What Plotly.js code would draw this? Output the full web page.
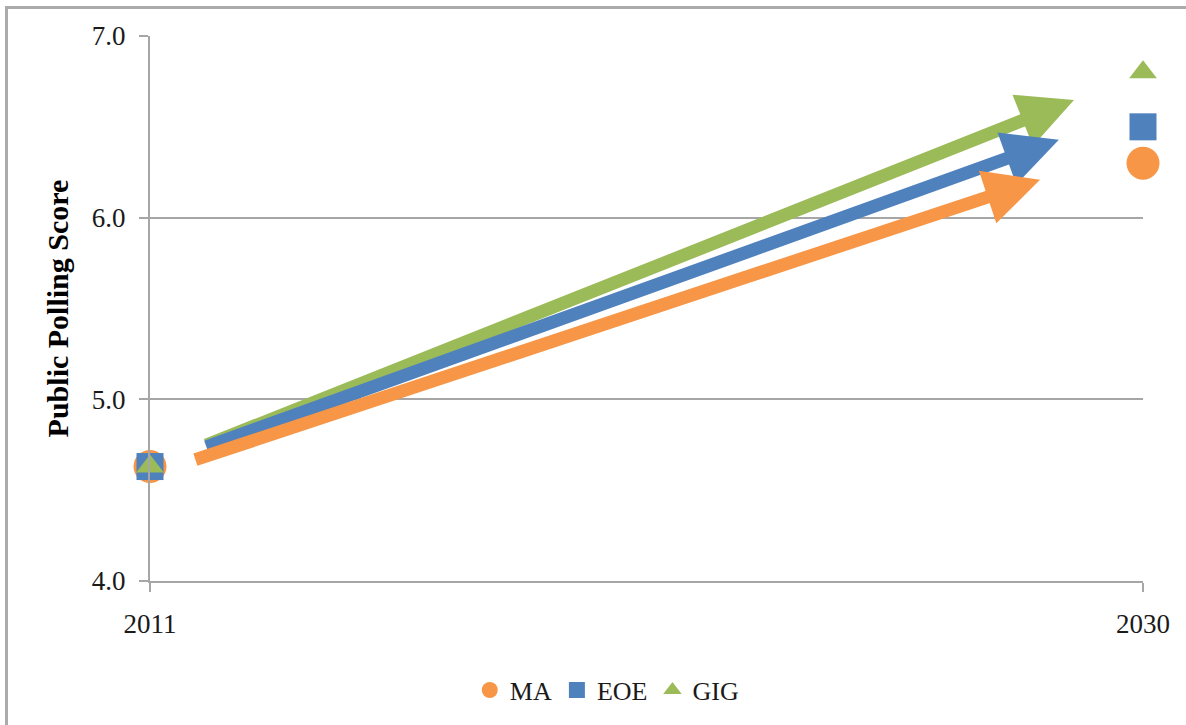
<!DOCTYPE html>
<html>
<head>
<meta charset="utf-8">
<script src="https://cdn.plot.ly/plotly-3.0.1.min.js"></script>
<style>
  html, body { margin: 0; padding: 0; background: #ffffff; }
  #frame { position: absolute; left: 5px; top: 6px; width: 1200px; height: 740px;
           border-top: 3px solid #ababab; border-left: 3px solid #ababab; box-sizing: border-box; }
  #chart { position: absolute; left: 0; top: 0; width: 1186px; height: 725px; }
</style>
</head>
<body>
<div id="frame"></div>
<div id="chart"></div>
<script>
// ---- data ----
const years = [2011, 2030];
const tickLabels = ['2011', '2030'];
const seriesNames = ['MA', 'EOE', 'GIG'];
const MA  = [4.63, 6.3];
const EOE = [4.63, 6.5];
const GIG = [4.63, 6.8];

// decorative trend arrows (data units: year, score)
const arrowSeries = ['GIG', 'EOE', 'MA'];
const arrowFromX = [2012.05, 2012.05, 2011.84];
const arrowFromY = [4.745, 4.736, 4.665];
const arrowToX   = [2028.68, 2028.39, 2028.03];
const arrowToY   = [6.648, 6.429, 6.209];

const yTicks = [4, 5, 6, 7];
const yTickText = ['4.0', '5.0', '6.0', '7.0'];

// ---- styling ----
const colors = { MA: '#F79646', EOE: '#4F81BD', GIG: '#9BBB59' };
const symbols = { MA: 'circle', EOE: 'square', GIG: 'triangle-up' };
const sizes = { MA: 33, EOE: 27, GIG: 24 };
const values = { MA: MA, EOE: EOE, GIG: GIG };
const font = 'Liberation Serif, Times New Roman, serif';

const traces = seriesNames.map(n => ({
  type: 'scatter', mode: 'markers', name: n,
  x: years, y: values[n],
  cliponaxis: false,
  marker: { symbol: symbols[n], size: sizes[n], color: colors[n], line: { width: 0 } }
}));

const annotations = arrowSeries.map((n, i) => ({
  x: arrowToX[i], y: arrowToY[i], xref: 'x', yref: 'y',
  ax: arrowFromX[i], ay: arrowFromY[i], axref: 'x', ayref: 'y',
  text: '', showarrow: true, arrowhead: 2, arrowsize: 0.85, arrowwidth: 13,
  arrowcolor: colors[n], standoff: 0, startstandoff: 0
}));

const layout = {
  width: 1186, height: 725,
  paper_bgcolor: 'rgba(0,0,0,0)', plot_bgcolor: 'rgba(0,0,0,0)',
  margin: { l: 150, r: 43, t: 36, b: 143 },
  font: { family: font, size: 27, color: '#1a1a1a' },
  showlegend: true,
  legend: { orientation: 'h', x: 0.46, xanchor: 'center', y: -0.198, yanchor: 'middle',
            font: { family: font, size: 26, color: '#1a1a1a' }, itemwidth: 30,
            bgcolor: 'rgba(0,0,0,0)' },
  xaxis: {
    type: 'linear', range: [2011, 2030], tickmode: 'array', tickvals: years, ticktext: tickLabels,
    showgrid: false, zeroline: false, showline: true, linecolor: '#a6a6a6', linewidth: 2,
    ticks: 'outside', ticklen: 9, tickwidth: 2, tickcolor: '#a6a6a6',
    tickfont: { family: font, size: 27, color: '#1a1a1a' }, ticklabelstandoff: 9
  },
  yaxis: {
    range: [4, 7], tickmode: 'array', tickvals: yTicks, ticktext: yTickText,
    showgrid: true, gridcolor: '#a6a6a6', gridwidth: 2, zeroline: false,
    showline: true, linecolor: '#a6a6a6', linewidth: 2,
    ticks: 'outside', ticklen: 9, tickwidth: 2, tickcolor: '#a6a6a6',
    tickfont: { family: font, size: 27, color: '#1a1a1a' }, ticklabelstandoff: 8,
    title: { text: '<b>Public Polling Score</b>', font: { family: font, size: 30, color: '#000' }, standoff: 14 }
  },
  annotations: annotations
};

Plotly.newPlot('chart', traces, layout, { displayModeBar: false, staticPlot: true });
</script>
</body>
</html>
